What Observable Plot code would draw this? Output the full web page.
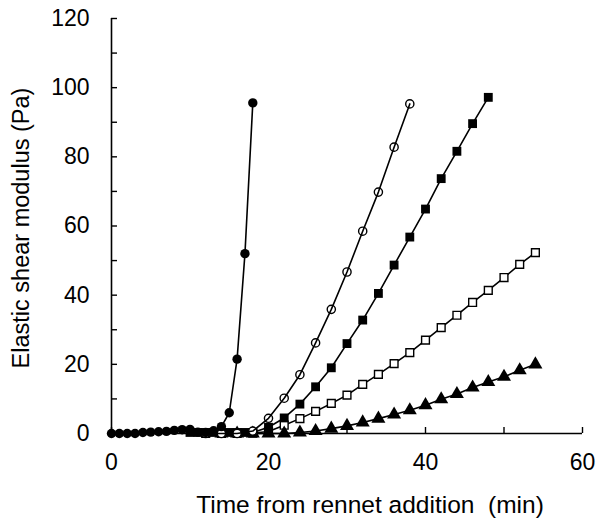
<!DOCTYPE html>
<html>
<head>
<meta charset="utf-8">
<script src="https://cdn.jsdelivr.net/npm/d3@7"></script>
<script src="https://cdn.jsdelivr.net/npm/@observablehq/plot@0.6"></script>
<style>
  html, body { margin: 0; padding: 0; background: white; }
</style>
</head>
<body>
<div id="chart"></div>
<script>
// Series: filled circles
const timeFilledCircle = [0,1,2,3,4,5,6,7,8,9,10,11,12,13,14,15,16,17,18];
const valFilledCircle  = [0,0,0,0,0.3,0.4,0.5,0.6,0.9,1.1,1.2,0.4,0.3,0.8,2.0,6.0,21.5,52.0,95.6];
// Series: open circles
const timeOpenCircle = [12,14,16,18,20,22,24,26,28,30,32,34,36,38];
const valOpenCircle  = [0,0,0,0.7,4.4,10.2,17.0,26.2,35.9,46.7,58.5,69.8,82.8,95.3];
// Series: filled squares
const timeFilledSquare = [10,11,12,13,14,15,16,17,18,20,22,24,26,28,30,32,34,36,38,40,42,44,46,48];
const valFilledSquare  = [0.3,0.3,0.3,0.3,0.3,0.3,0.3,0.3,0.3,1.8,4.5,8.5,13.5,19.0,26.0,32.8,40.5,48.7,56.8,64.9,73.7,81.6,89.6,97.2];
// Series: open squares
const timeOpenSquare = [12,14,16,18,20,22,24,26,28,30,32,34,36,38,40,42,44,46,48,50,52,54];
const valOpenSquare  = [0,0,0,0.1,0.6,2.4,4.3,6.4,8.7,11.1,14.2,17.1,20.2,23.4,27.0,30.6,34.2,37.9,41.4,45.1,48.9,52.3];
// Series: filled triangles
const timeTriangle = [14,16,18,20,22,24,26,28,30,32,34,36,38,40,42,44,46,48,50,52,54];
const valTriangle  = [0,0,0,0,0,0.3,0.7,1.4,2.2,3.2,4.3,5.5,6.7,8.2,9.9,11.4,13.3,14.9,16.4,18.3,20.0];

// Axis ticks
const xLabelTicks = [0,20,40,60];
const xMinorTicks = [0,10,20,30,40,50,60];
const yLabelTicks = [0,20,40,60,80,100,120];
const yMinorTicks = [0,10,20,30,40,50,60,70,80,90,100,110,120];

const xTitle = "Time from rennet addition\u00a0 (min)";
const yTitle = "Elastic shear modulus (Pa)";

const toRows = (ts, vs) => ts.map((t, i) => ({t, v: vs[i]}));
const sFC = toRows(timeFilledCircle, valFilledCircle);
const sOC = toRows(timeOpenCircle, valOpenCircle);
const sFS = toRows(timeFilledSquare, valFilledSquare);
const sOS = toRows(timeOpenSquare, valOpenSquare);
const sTR = toRows(timeTriangle, valTriangle);

const lineOpts = {x: "t", y: "v", stroke: "black", strokeWidth: 1.6};

const chart = Plot.plot({
  width: 599,
  height: 521,
  marginLeft: 111,
  marginRight: 17,
  marginTop: 18,
  marginBottom: 88,
  x: {domain: [0, 60], label: null},
  y: {domain: [0, 120], label: null},
  style: {fontFamily: "'Liberation Sans', Arial, sans-serif", fontSize: "23px", color: "black", background: "white"},
  marks: [
    Plot.axisX({ticks: xLabelTicks, tickSize: 0, tickPadding: 20, label: null, fontSize: 23}),
    Plot.axisX({ticks: xMinorTicks, tickSize: 6, dy: -6, tickFormat: () => "", label: null, strokeWidth: 1.4}),
    Plot.axisY({ticks: yLabelTicks, tickSize: 0, tickPadding: 22, label: null, fontSize: 23}),
    Plot.axisY({ticks: yMinorTicks, tickSize: 6, dx: 6, tickFormat: () => "", label: null, strokeWidth: 1.4}),
    Plot.ruleX([0], {stroke: "black", strokeWidth: 1.6}),
    Plot.ruleY([0], {stroke: "black", strokeWidth: 1.6}),
    Plot.line(sOS, lineOpts),
    Plot.line(sTR, lineOpts),
    Plot.line(sFS, lineOpts),
    Plot.line(sFC, lineOpts),
    Plot.dot(sOS, {x: "t", y: "v", symbol: "square", r: 4.4, fill: "white", stroke: "black", strokeWidth: 1.4}),
    Plot.dot(sTR, {x: "t", y: "v", symbol: "triangle", r: 5.2, fill: "black", stroke: "none"}),
    Plot.dot(sFS, {x: "t", y: "v", symbol: "square", r: 5.0, fill: "black", stroke: "none"}),
    Plot.dot(sOC, {x: "t", y: "v", r: 4.1, fill: "white", stroke: "black", strokeWidth: 1.4}),
    Plot.line(sOC, lineOpts),
    Plot.dot(sFC, {x: "t", y: "v", r: 4.7, fill: "black", stroke: "none"}),
    Plot.text([xTitle], {frameAnchor: "bottom", text: d => d, textAnchor: "middle", lineAnchor: "middle", dx: 23, dy: 72, fontSize: 24.5, fill: "black"}),
    Plot.text([yTitle], {frameAnchor: "left", text: d => d, textAnchor: "middle", lineAnchor: "middle", rotate: -90, dx: -90, dy: 2, fontSize: 23.5, fill: "black"})
  ]
});
document.getElementById("chart").appendChild(chart);
</script>
</body>
</html>
